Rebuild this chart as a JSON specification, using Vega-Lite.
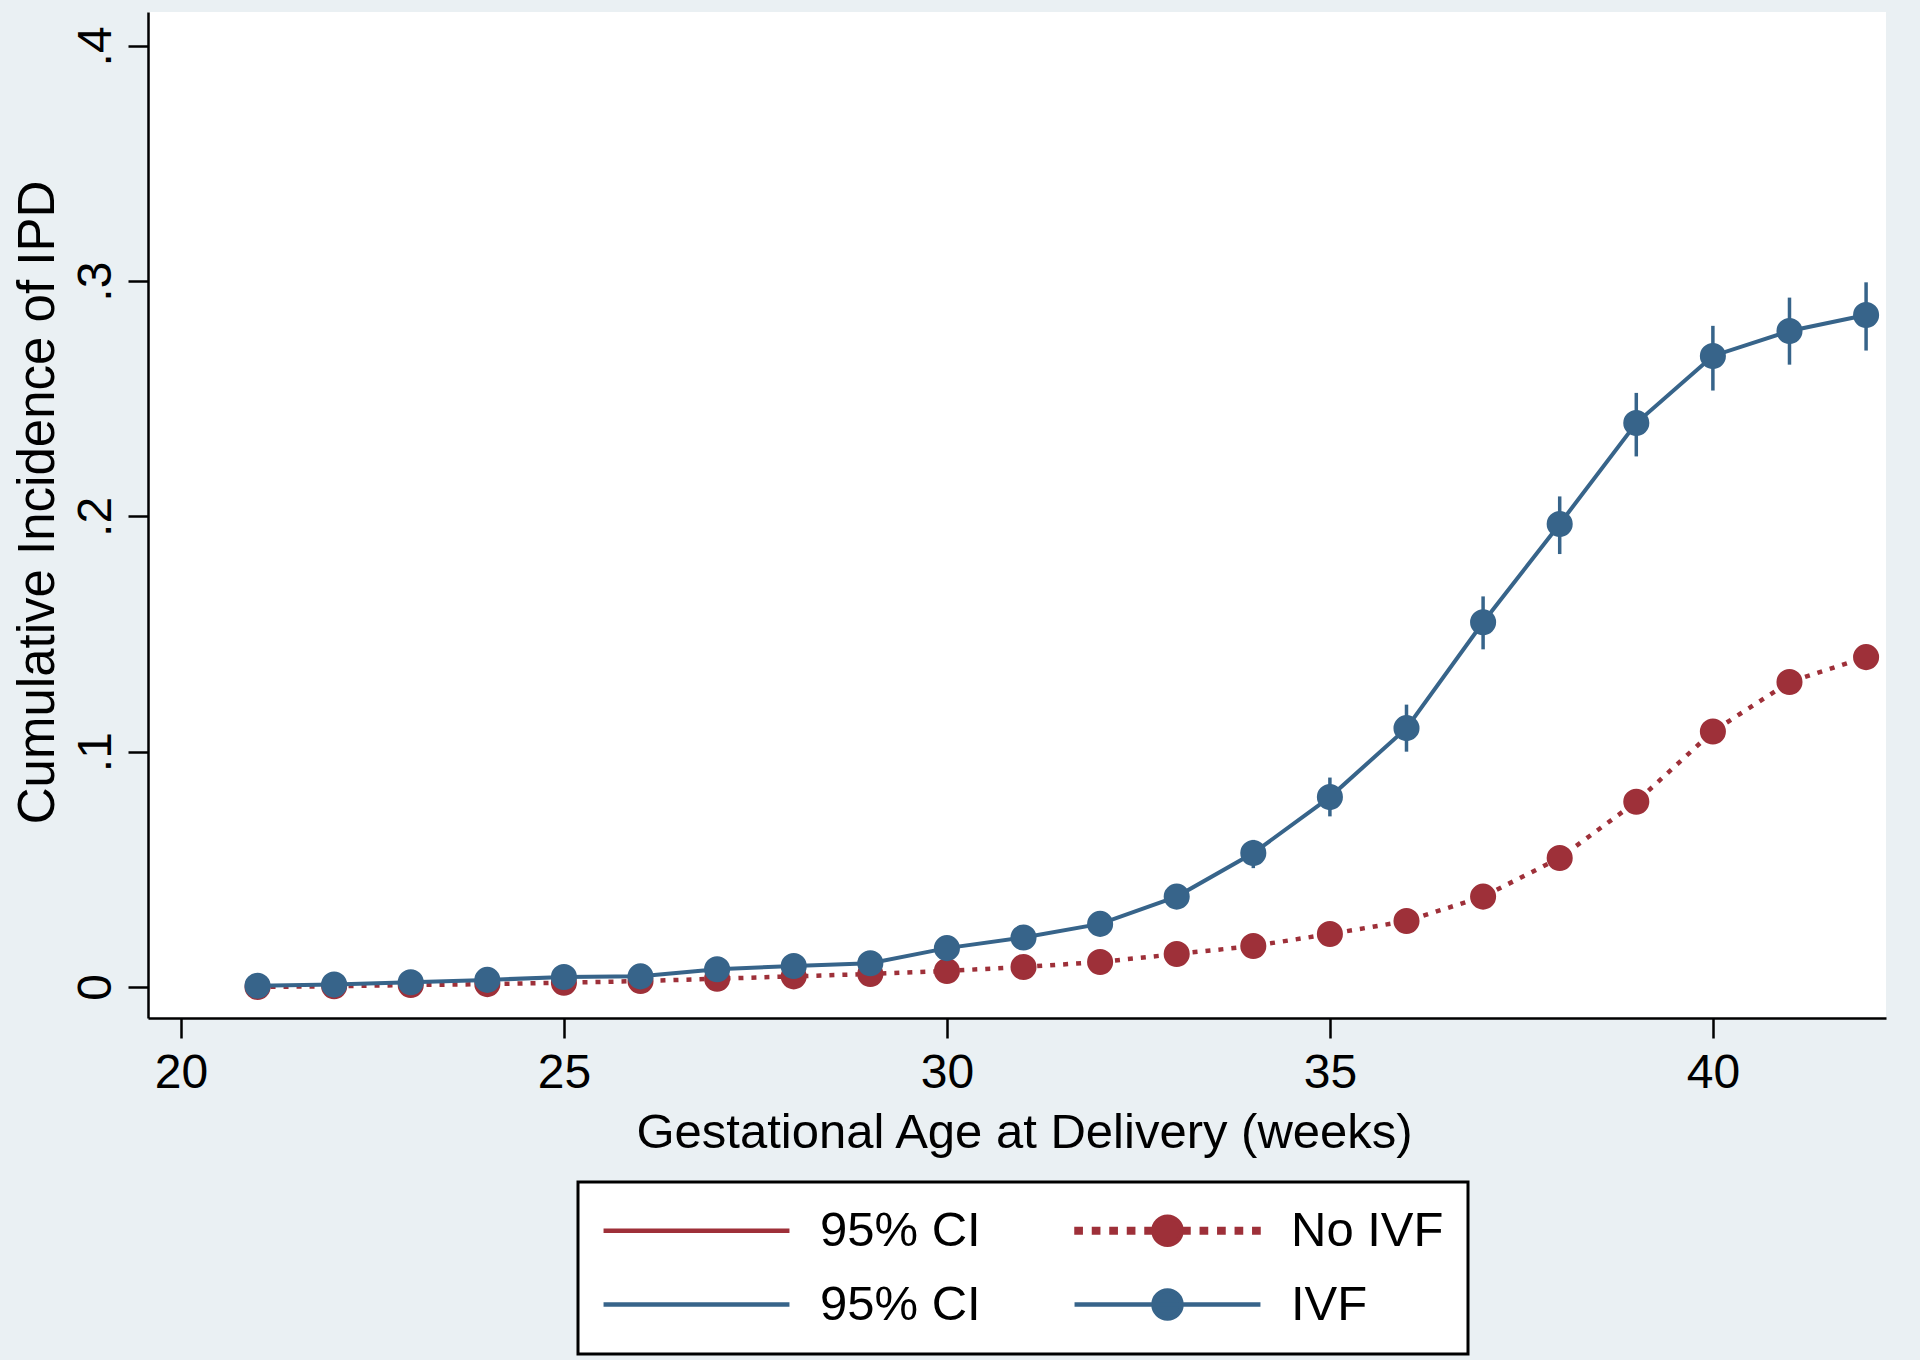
{
  "$schema": "https://vega.github.io/schema/vega-lite/v6.json",
  "autosize": {"type": "none"},
  "width": 1738,
  "height": 1006,
  "padding": {"left": 148, "top": 12, "right": 34, "bottom": 342},
  "background": "#eaf0f3",
  "config": {
    "view": {"fill": "white", "stroke": null},
    "font": "Liberation Sans",
    "axis": {
      "domainColor": "black", "domainWidth": 2.5, "tickColor": "black", "tickWidth": 2.5, "tickSize": 20,
      "labelFont": "Liberation Sans", "labelFontSize": 48, "labelColor": "black",
      "titleFont": "Liberation Sans", "titleFontSize": 49, "titleFontWeight": "normal", "titleColor": "black",
      "grid": false
    },
    "legend": {
      "orient": "none", "legendX": 430, "legendY": 1170,
      "columns": 2, "columnPadding": 84, "rowPadding": 24, "padding": 24,
      "fillColor": "white", "strokeColor": "black",
      "labelFont": "Liberation Sans", "labelFontSize": 49, "labelColor": "black", "labelLimit": 400,
      "labelOffset": 99, "symbolOffset": 70, "symbolSize": 784, "symbolStrokeWidth": 3
    }
  },
  "data": {"values": [
    {"week": 21, "group": "IVF", "ci": "CI_IVF", "est": 0.0005, "lo": 0.0, "hi": 0.0015},
    {"week": 22, "group": "IVF", "ci": "CI_IVF", "est": 0.001, "lo": 0.0, "hi": 0.002},
    {"week": 23, "group": "IVF", "ci": "CI_IVF", "est": 0.002, "lo": 0.001, "hi": 0.003},
    {"week": 24, "group": "IVF", "ci": "CI_IVF", "est": 0.003, "lo": 0.0015, "hi": 0.0045},
    {"week": 25, "group": "IVF", "ci": "CI_IVF", "est": 0.0042, "lo": 0.0025, "hi": 0.006},
    {"week": 26, "group": "IVF", "ci": "CI_IVF", "est": 0.0045, "lo": 0.0028, "hi": 0.0063},
    {"week": 27, "group": "IVF", "ci": "CI_IVF", "est": 0.0075, "lo": 0.0052, "hi": 0.0098},
    {"week": 28, "group": "IVF", "ci": "CI_IVF", "est": 0.0089, "lo": 0.0064, "hi": 0.0114},
    {"week": 29, "group": "IVF", "ci": "CI_IVF", "est": 0.0101, "lo": 0.0074, "hi": 0.0128},
    {"week": 30, "group": "IVF", "ci": "CI_IVF", "est": 0.0165, "lo": 0.013, "hi": 0.02},
    {"week": 31, "group": "IVF", "ci": "CI_IVF", "est": 0.021, "lo": 0.0175, "hi": 0.0248},
    {"week": 32, "group": "IVF", "ci": "CI_IVF", "est": 0.0268, "lo": 0.0228, "hi": 0.031},
    {"week": 33, "group": "IVF", "ci": "CI_IVF", "est": 0.0384, "lo": 0.0340, "hi": 0.0430},
    {"week": 34, "group": "IVF", "ci": "CI_IVF", "est": 0.0569, "lo": 0.0505, "hi": 0.0625},
    {"week": 35, "group": "IVF", "ci": "CI_IVF", "est": 0.0807, "lo": 0.0725, "hi": 0.0890},
    {"week": 36, "group": "IVF", "ci": "CI_IVF", "est": 0.110, "lo": 0.100, "hi": 0.120},
    {"week": 37, "group": "IVF", "ci": "CI_IVF", "est": 0.155, "lo": 0.1435, "hi": 0.166},
    {"week": 38, "group": "IVF", "ci": "CI_IVF", "est": 0.1968, "lo": 0.184, "hi": 0.2085},
    {"week": 39, "group": "IVF", "ci": "CI_IVF", "est": 0.2397, "lo": 0.2255, "hi": 0.2525},
    {"week": 40, "group": "IVF", "ci": "CI_IVF", "est": 0.2682, "lo": 0.2535, "hi": 0.281},
    {"week": 41, "group": "IVF", "ci": "CI_IVF", "est": 0.2788, "lo": 0.2645, "hi": 0.293},
    {"week": 42, "group": "IVF", "ci": "CI_IVF", "est": 0.2856, "lo": 0.2705, "hi": 0.2995},
    {"week": 21, "group": "No IVF", "ci": "CI_No", "est": 0.0, "lo": 0.0, "hi": 0.0002},
    {"week": 22, "group": "No IVF", "ci": "CI_No", "est": 0.0003, "lo": 0.0001, "hi": 0.0005},
    {"week": 23, "group": "No IVF", "ci": "CI_No", "est": 0.0008, "lo": 0.0005, "hi": 0.0011},
    {"week": 24, "group": "No IVF", "ci": "CI_No", "est": 0.0012, "lo": 0.0009, "hi": 0.0015},
    {"week": 25, "group": "No IVF", "ci": "CI_No", "est": 0.0018, "lo": 0.0014, "hi": 0.0022},
    {"week": 26, "group": "No IVF", "ci": "CI_No", "est": 0.0025, "lo": 0.0021, "hi": 0.0029},
    {"week": 27, "group": "No IVF", "ci": "CI_No", "est": 0.0035, "lo": 0.003, "hi": 0.004},
    {"week": 28, "group": "No IVF", "ci": "CI_No", "est": 0.0045, "lo": 0.004, "hi": 0.005},
    {"week": 29, "group": "No IVF", "ci": "CI_No", "est": 0.0055, "lo": 0.0049, "hi": 0.0061},
    {"week": 30, "group": "No IVF", "ci": "CI_No", "est": 0.0068, "lo": 0.0061, "hi": 0.0075},
    {"week": 31, "group": "No IVF", "ci": "CI_No", "est": 0.0085, "lo": 0.0077, "hi": 0.0093},
    {"week": 32, "group": "No IVF", "ci": "CI_No", "est": 0.0106, "lo": 0.0097, "hi": 0.0115},
    {"week": 33, "group": "No IVF", "ci": "CI_No", "est": 0.014, "lo": 0.013, "hi": 0.015},
    {"week": 34, "group": "No IVF", "ci": "CI_No", "est": 0.0174, "lo": 0.0163, "hi": 0.0185},
    {"week": 35, "group": "No IVF", "ci": "CI_No", "est": 0.0225, "lo": 0.0212, "hi": 0.0238},
    {"week": 36, "group": "No IVF", "ci": "CI_No", "est": 0.028, "lo": 0.0265, "hi": 0.0295},
    {"week": 37, "group": "No IVF", "ci": "CI_No", "est": 0.0384, "lo": 0.0366, "hi": 0.0402},
    {"week": 38, "group": "No IVF", "ci": "CI_No", "est": 0.0548, "lo": 0.0527, "hi": 0.0569},
    {"week": 39, "group": "No IVF", "ci": "CI_No", "est": 0.0787, "lo": 0.0762, "hi": 0.0812},
    {"week": 40, "group": "No IVF", "ci": "CI_No", "est": 0.1086, "lo": 0.1057, "hi": 0.1115},
    {"week": 41, "group": "No IVF", "ci": "CI_No", "est": 0.1296, "lo": 0.1265, "hi": 0.1327},
    {"week": 42, "group": "No IVF", "ci": "CI_No", "est": 0.1402, "lo": 0.137, "hi": 0.1434}
  ]},
  "encoding": {
    "x": {
      "field": "week", "type": "quantitative",
      "scale": {"domain": [19.57, 42.26], "nice": false, "zero": false},
      "axis": {
        "values": [20, 25, 30, 35, 40], "labelPadding": 49, "labelBaseline": "alphabetic",
        "title": "Gestational Age at Delivery (weeks)", "titleX": 876, "titleY": 129,
        "titleBaseline": "alphabetic", "titleAlign": "center", "titleAnchor": null
      }
    }
  },
  "layer": [
    {
      "mark": {"type": "rule", "strokeWidth": 3.5},
      "encoding": {
        "y": {
          "field": "lo", "type": "quantitative",
          "scale": {"domain": [-0.0132, 0.4144], "nice": false, "zero": false},
          "axis": {
            "values": [0, 0.1, 0.2, 0.3, 0.4],
            "labelExpr": "datum.value == 0 ? '0' : replace(format(datum.value, '.1f'), '0.', '.')",
            "labelAngle": -90, "labelAlign": "center", "labelBaseline": "alphabetic", "labelPadding": 18,
            "title": "Cumulative Incidence of IPD", "titleX": -95, "titleY": 490, "titleFontSize": 51,
            "titleAngle": -90, "titleBaseline": "alphabetic", "titleAlign": "center"
          }
        },
        "y2": {"field": "hi"},
        "color": {
          "field": "ci", "type": "nominal",
          "scale": {"domain": ["CI_No", "CI_IVF", "No IVF", "IVF"], "range": ["#9e3039", "#37648a", "#9e3039", "#37648a"]},
          "legend": {
            "title": null,
            "labelExpr": "datum.value == 'CI_No' || datum.value == 'CI_IVF' ? '95% CI' : datum.value",
            "encode": {
              "legend": {"update": {"strokeWidth": {"value": 3}}},
              "symbols": {"update": {
                "shape": {"signal": "datum.value == 'No IVF' ? 'M-6.5,-0.13L-6.2,-0.13L-6.2,0.13L-6.5,0.13ZM-5.25,-0.13L-4.95,-0.13L-4.95,0.13L-5.25,0.13ZM-4,-0.13L-3.7,-0.13L-3.7,0.13L-4,0.13ZM-2.75,-0.13L-2.45,-0.13L-2.45,0.13L-2.75,0.13ZM-1.5,-0.13L-1.2,-0.13L-1.2,0.13L-1.5,0.13ZM1.2,-0.13L1.5,-0.13L1.5,0.13L1.2,0.13ZM2.45,-0.13L2.75,-0.13L2.75,0.13L2.45,0.13ZM3.7,-0.13L4,-0.13L4,0.13L3.7,0.13ZM4.95,-0.13L5.25,-0.13L5.25,0.13L4.95,0.13ZM6.2,-0.13L6.5,-0.13L6.5,0.13L6.2,0.13ZM-1,0A1,1 0 1,0 1,0A1,1 0 1,0 -1,0Z' : datum.value == 'IVF' ? 'M-6.64,0L6.64,0M-1,0A1,1 0 1,0 1,0A1,1 0 1,0 -1,0Z' : 'M-6.64,0L6.64,0'"},
                "stroke": {"signal": "datum.value == 'No IVF' ? 'transparent' : datum.value == 'CI_No' ? '#9e3039' : '#37648a'"},
                "fill": {"signal": "datum.value == 'No IVF' ? '#9e3039' : datum.value == 'IVF' ? '#37648a' : 'transparent'"},
                "strokeWidth": {"value": 4.5},
                "size": {"value": 784},
                "opacity": {"value": 1}
              }}
            }
          }
        }
      }
    },
    {
      "transform": [{"filter": "datum.group == 'No IVF'"}],
      "mark": {"type": "line", "strokeWidth": 4.5, "strokeDash": [5, 8]},
      "encoding": {
        "y": {"field": "est", "type": "quantitative"},
        "color": {"field": "group", "type": "nominal"}
      }
    },
    {
      "transform": [{"filter": "datum.group == 'No IVF'"}],
      "mark": {"type": "point", "filled": true, "opacity": 1, "size": 680, "shape": "circle"},
      "encoding": {
        "y": {"field": "est", "type": "quantitative"},
        "color": {"field": "group", "type": "nominal"}
      }
    },
    {
      "transform": [{"filter": "datum.group == 'IVF'"}],
      "mark": {"type": "line", "strokeWidth": 4},
      "encoding": {
        "y": {"field": "est", "type": "quantitative"},
        "color": {"field": "group", "type": "nominal"}
      }
    },
    {
      "transform": [{"filter": "datum.group == 'IVF'"}],
      "mark": {"type": "point", "filled": true, "opacity": 1, "size": 680, "shape": "circle"},
      "encoding": {
        "y": {"field": "est", "type": "quantitative"},
        "color": {"field": "group", "type": "nominal"}
      }
    }
  ]
}
